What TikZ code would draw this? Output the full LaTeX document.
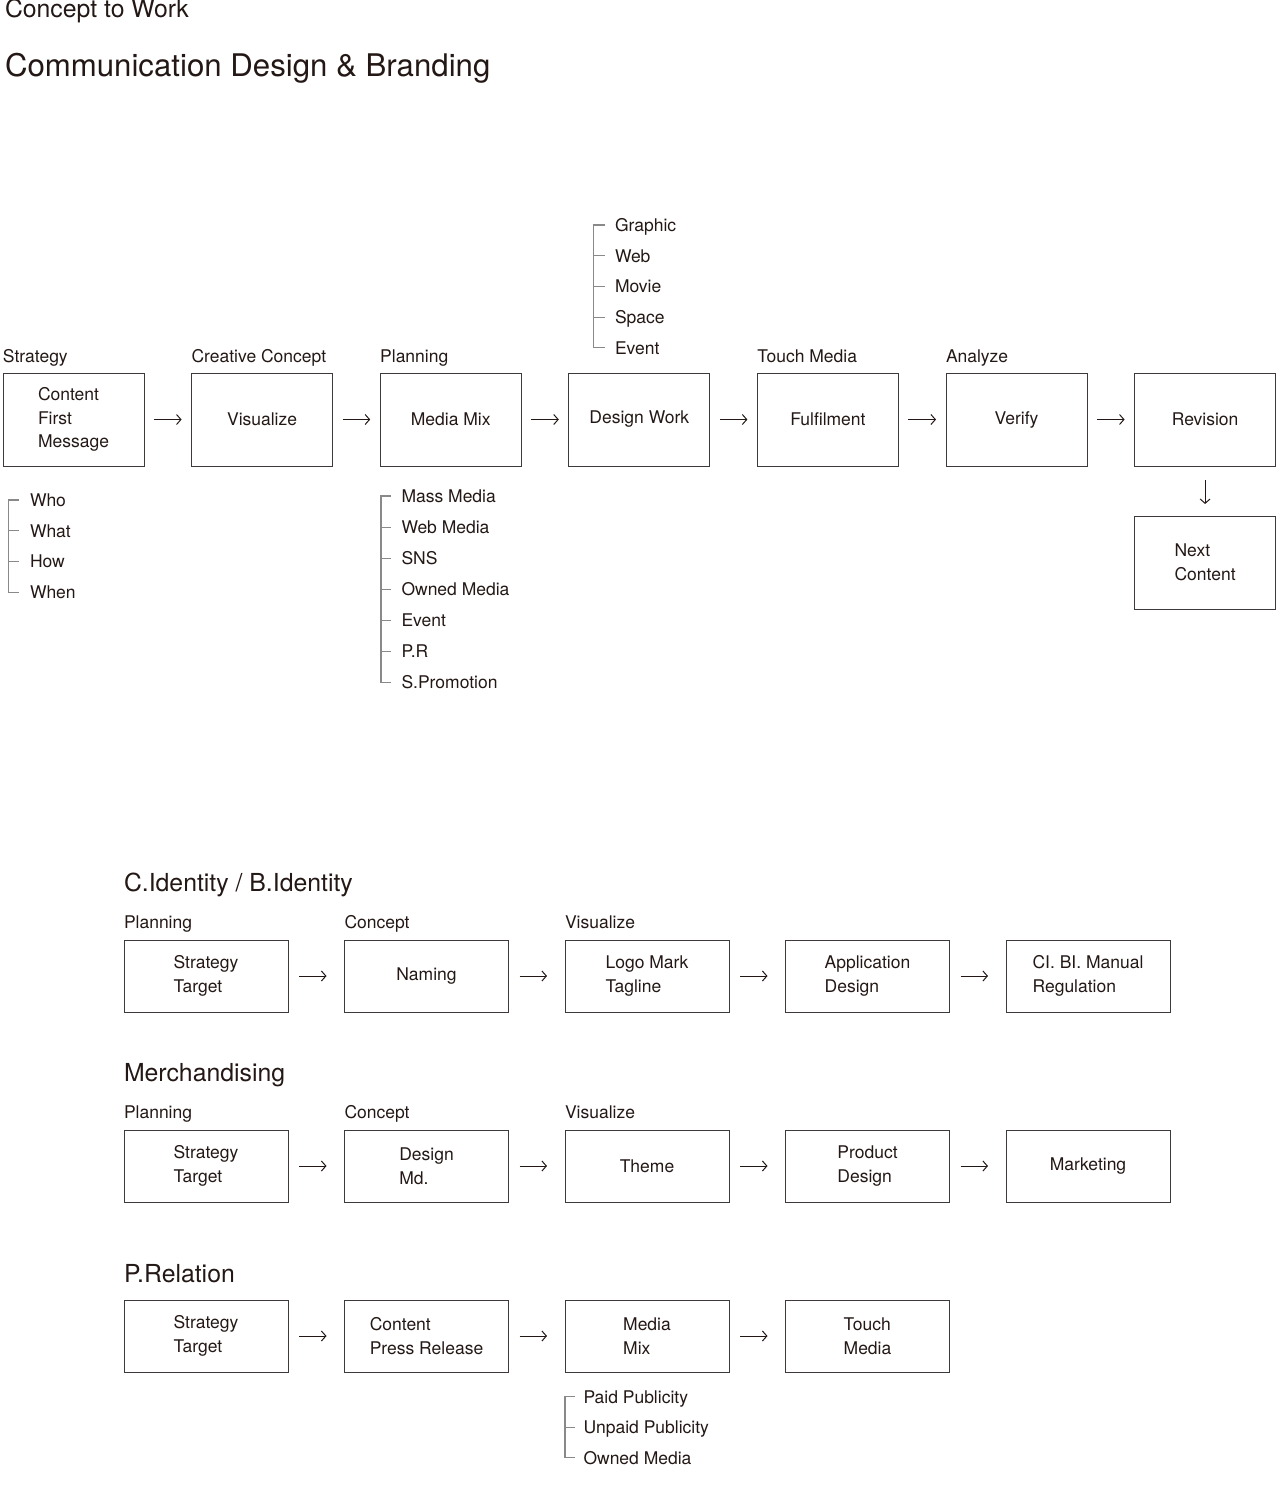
\documentclass[tikz,border=0pt]{standalone}
\usepackage{fontspec}
\setmainfont{TeX Gyre Heros}
\usepackage{xcolor}
\usetikzlibrary{arrows.meta, positioning}
\definecolor{ink}{HTML}{231815}
\definecolor{frame}{HTML}{3E3A39}
\definecolor{twig}{HTML}{898989}
\newcommand{\boxfont}{\fontsize{8.75}{11.75}\selectfont}
\newcommand{\secfont}{\fontsize{12.4}{15}\selectfont}
\newcommand{\titlefont}{\fontsize{15.6}{19}\selectfont}

\begin{document}
\begin{tikzpicture}[x=0.5pt, y=-0.5pt, >={Straight Barb[length=2.2pt, width=5pt]},
  every node/.style={text=ink, inner sep=0pt, outer sep=0pt},
  stepbox/.style={rectangle, draw=frame, line width=0.5pt, minimum width=#1, align=left, font=\boxfont},
  topbox/.style={stepbox=70.5pt, minimum height=46.5pt},
  rowbox/.style={stepbox=82pt, minimum height=36pt},
  stage/.style={anchor=base west, font=\boxfont},
  item/.style={anchor=west, font=\boxfont, text height=6.3pt, text depth=0pt},
  heading/.style={anchor=base west, font=#1},
  flow/.style={->, draw=ink, line width=0.5pt, shorten <=5pt, shorten >=5pt},
  rowflow/.style={flow, shorten <=5.5pt, shorten >=9pt},
  bracket/.style={draw=twig, line width=0.6pt}]
  \useasboundingbox (0,0) rectangle (1280,1500);

  \node[heading=\secfont] (concept) at (5,17.3) {Concept to Work};
  \node[heading=\titlefont] (branding) at (5,76.5) {Communication Design \& Branding};

  \node[topbox] (message) at (73.5,419.5) {Content\\First\\Message};
  \node[topbox, right=23.8pt of message] (visualize) {Visualize};
  \node[topbox, right=23.8pt of visualize] (mediamix) {Media Mix};
  \node[topbox, right=23.8pt of mediamix] (designwork) {Design Work};
  \node[topbox, right=23.8pt of designwork] (fulfil) {Fulfilment};
  \node[topbox, right=23.8pt of fulfil] (verify) {Verify};
  \node[topbox, right=23.8pt of verify] (revision) {Revision};
  \node[topbox, below=25pt of revision] (nextcontent) {Next\\Content};

  \node[stage] (lstrategy) at ([yshift=5.5pt]message.north west) {Strategy};
  \node[stage] (lcreative) at ([yshift=5.5pt]visualize.north west) {Creative Concept};
  \node[stage] (lplanning) at ([yshift=5.5pt]mediamix.north west) {Planning};
  \node[stage] (ltouch) at ([yshift=5.5pt]fulfil.north west) {Touch Media};
  \node[stage] (lanalyze) at ([yshift=5.5pt]verify.north west) {Analyze};

  \foreach \a/\b in {message/visualize, visualize/mediamix, mediamix/designwork, designwork/fulfil, fulfil/verify, verify/revision}
    \draw[flow] (\a) -- (\b);
  \draw[flow, shorten <=7pt, shorten >=6pt] (revision) -- (nextcontent);

  \foreach \t [count=\i from 0] in {Who, What, How, When}
    \node[item] (who-\i) at (30,{500+30.7*\i}) {\t};
  \draw[bracket] (19,500) -| (8.5,592.1) -- (19,592.1);
  \foreach \i in {1,2}
    \draw[bracket] (8.5,{500+30.7*\i}) -- (19,{500+30.7*\i});

  \foreach \t [count=\i from 0] in {Graphic, Web, Movie, Space, Event}
    \node[item] (work-\i) at (615,{225+30.7*\i}) {\t};
  \draw[bracket] (604.5,225) -| (593.5,347.8) -- (604.5,347.8);
  \foreach \i in {1,2,3}
    \draw[bracket] (593.5,{225+30.7*\i}) -- (604.5,{225+30.7*\i});

  \foreach \t [count=\i from 0] in {Mass Media, Web Media, SNS, Owned Media, Event, P.R, S.Promotion}
    \node[item] (media-\i) at (401.5,{496+31.1*\i}) {\t};
  \draw[bracket] (391,496) -| (381,682.6) -- (391,682.6);
  \foreach \i in {1,...,5}
    \draw[bracket] (381,{496+31.1*\i}) -- (391,{496+31.1*\i});

  \node[heading=\secfont] (identity) at (124,891.7) {C.Identity / B.Identity};
  \node[rowbox] (ciplan) at (206,976) {Strategy\\Target};
  \node[rowbox, right=28.25pt of ciplan] (naming) {Naming};
  \node[rowbox, right=28.25pt of naming] (logo) {Logo Mark\\Tagline};
  \node[rowbox, right=28.25pt of logo] (application) {Application\\Design};
  \node[rowbox, right=28.25pt of application] (manual) {CI. BI. Manual\\Regulation};
  \node[stage] (lciplan) at ([yshift=5.75pt]ciplan.north west) {Planning};
  \node[stage] (lnaming) at ([yshift=5.75pt]naming.north west) {Concept};
  \node[stage] (llogo) at ([yshift=5.75pt]logo.north west) {Visualize};
  \foreach \a/\b in {ciplan/naming, naming/logo, logo/application, application/manual}
    \draw[rowflow] (\a) -- (\b);

  \node[heading=\secfont] (merch) at (124,1081.7) {Merchandising};
  \node[rowbox] (mdplan) at (206,1166) {Strategy\\Target};
  \node[rowbox, right=28.25pt of mdplan] (designmd) {Design\\Md.};
  \node[rowbox, right=28.25pt of designmd] (theme) {Theme};
  \node[rowbox, right=28.25pt of theme] (product) {Product\\Design};
  \node[rowbox, right=28.25pt of product] (marketing) {Marketing};
  \node[stage] (lmdplan) at ([yshift=5.75pt]mdplan.north west) {Planning};
  \node[stage] (ldesignmd) at ([yshift=5.75pt]designmd.north west) {Concept};
  \node[stage] (ltheme) at ([yshift=5.75pt]theme.north west) {Visualize};
  \foreach \a/\b in {mdplan/designmd, designmd/theme, theme/product, product/marketing}
    \draw[rowflow] (\a) -- (\b);

  \node[heading=\secfont] (relation) at (124,1282.3) {P.Relation};
  \node[rowbox] (prplan) at (206,1336) {Strategy\\Target};
  \node[rowbox, right=28.25pt of prplan] (press) {Content\\Press Release};
  \node[rowbox, right=28.25pt of press] (prmix) {Media\\Mix};
  \node[rowbox, right=28.25pt of prmix] (prtouch) {Touch\\Media};
  \foreach \a/\b in {prplan/press, press/prmix, prmix/prtouch}
    \draw[rowflow] (\a) -- (\b);

  \foreach \t [count=\i from 0] in {Paid Publicity, Unpaid Publicity, Owned Media}
    \node[item] (pub-\i) at (583.5,{1396.7+30.5*\i}) {\t};
  \draw[bracket] (574.5,1396.7) -| (565,1457.7) -- (574.5,1457.7);
  \draw[bracket] (565,1427.2) -- (574.5,1427.2);
\end{tikzpicture}
\end{document}
